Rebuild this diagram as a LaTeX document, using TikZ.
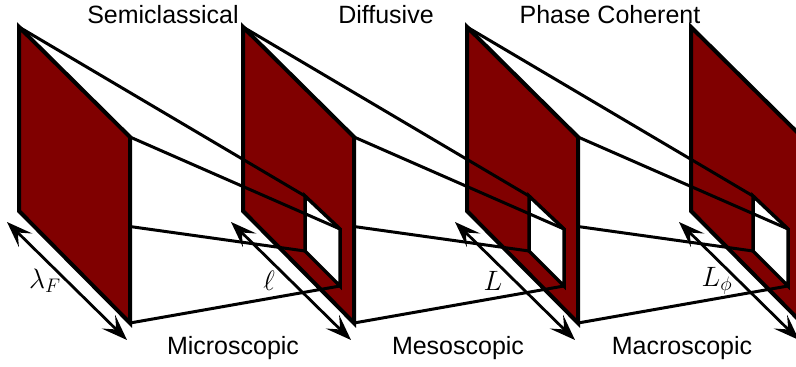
\documentclass[tikz,border=0pt]{standalone}
\usepackage{fix-cm}
\usepackage{fontspec}
\setmainfont{Liberation Sans}
\usetikzlibrary{arrows.meta}
\definecolor{slabred}{RGB}{128,0,0}

\begin{document}
\begin{tikzpicture}[
  x=1pt, y=-1pt,
  slab/.style={draw, fill=slabred, line width=4pt, line join=miter},
  window/.style={draw, fill=white, line width=3.5pt},
  ray/.style={draw, line width=3pt},
  span/.style={{Stealth[length=26pt,width=19pt,inset=11pt]}-{Stealth[length=26pt,width=19pt,inset=11pt]}, line width=2.8pt},
  every node/.style={font=\fontsize{25}{30}\selectfont, inner sep=0pt},
  size/.style={font=\fontsize{28}{32}\selectfont}
]
\clip (0,0) rectangle (796,367);

% corners of the slabs, the windows and the length arrows
\foreach \i [evaluate=\i as \dx using 224*(\i-1)] in {1,...,4} {
  \coordinate (tl\i) at (19+\dx,27);
  \coordinate (tr\i) at (130+\dx,137);
  \coordinate (br\i) at (130+\dx,323);
  \coordinate (bl\i) at (19+\dx,211);
  \coordinate (wtl\i) at (81+\dx,196);
  \coordinate (wtr\i) at (116+\dx,229);
  \coordinate (wbr\i) at (116+\dx,286);
  \coordinate (wbl\i) at (81+\dx,251);
  \coordinate (sa\i) at (7+\dx,222);
  \coordinate (sb\i) at (127+\dx,340);
  \coordinate (lab\i) at (45+\dx,281);
}

% back to front
\foreach \i in {4,3,2} {
  \pgfmathtruncatemacro{\j}{\i-1}
  \filldraw[slab] (tl\i) -- (tr\i) -- (br\i) -- (bl\i) -- cycle;
  \filldraw[window] (wtl\i) -- (wtr\i) -- (wbr\i) -- (wbl\i) -- cycle;
  \draw[ray] (tl\j) -- (wtl\i) (tr\j) -- (wtr\i) (br\j) -- (wbr\i) (bl\j) -- (wbl\i);
}
\filldraw[slab] (tl1) -- (tr1) -- (br1) -- (bl1) -- cycle;

\foreach \i/\len in {1/\lambda_F, 2/\ell, 3/L, 4/L_\phi} {
  \draw[span] (sa\i) -- (sb\i);
  \node[size] (len\i) at (lab\i) {$\len$};
}

\node[anchor=base] (semi) at (163,23) {Semiclassical};
\node[anchor=base] (diff) at (386,23) {Diffusive};
\node[anchor=base] (phase) at (610,23) {Phase Coherent};
\node[anchor=base] (micro) at (233,354) {Microscopic};
\node[anchor=base] (meso) at (458,354) {Mesoscopic};
\node[anchor=base] (macro) at (682,354) {Macroscopic};

\end{tikzpicture}
\end{document}
